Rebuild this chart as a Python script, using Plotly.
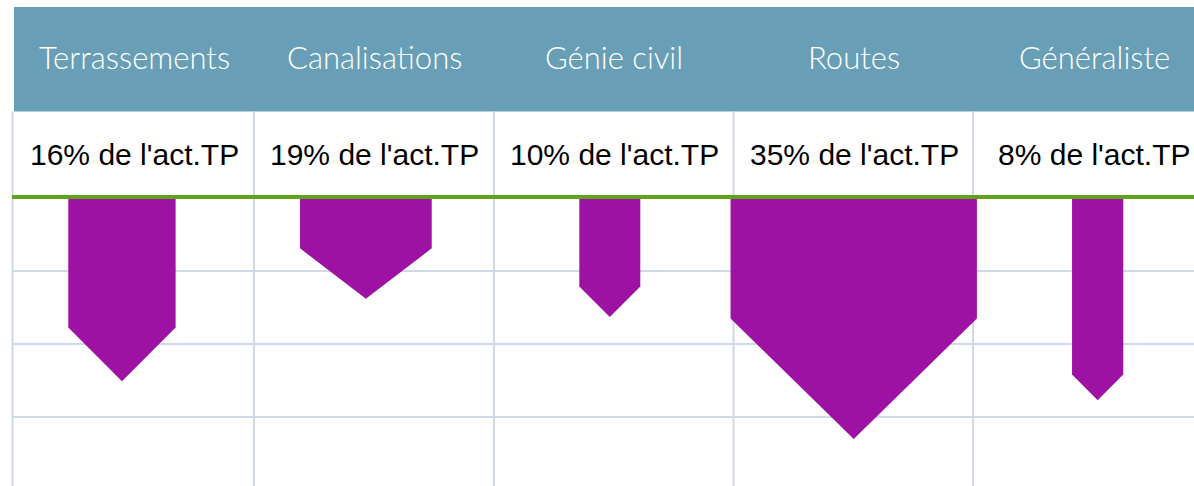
import plotly.graph_objects as go

# ---- data ----
categories = ["Terrassements", "Canalisations", "Génie civil", "Routes", "Généraliste"]
part_activite = [16, 19, 10, 35, 8]                 # % de l'activité TP
largeur_fleche = [0.44, 0.54, 0.25, 1.01, 0.21]     # arrow width (category units)
longueur_fleche = [2.51, 1.38, 1.63, 3.30, 2.77]    # arrow length (grid units)
labels_part = [f"{p}% de l'act.TP" for p in part_activite]

# ---- geometry / style ----
W, H = 1194, 486
X_RANGE = [-0.5, 4.395]
Y_RANGE = [3.945, -2.712]   # reversed, 0 at the green line
px_per_x = W / (X_RANGE[1] - X_RANGE[0])
px_per_y = H / (Y_RANGE[0] - Y_RANGE[1])

PURPLE = "#9E12A3"
HEADER = "#689FB6"
GRID = "#D0D9E6"
GREEN = "#62A11A"

def px(xp):
    return xp / W

def py(yp):
    return 1 - yp / H

fig = go.Figure()

for i, (w, L) in enumerate(zip(largeur_fleche, longueur_fleche)):
    half = w / 2
    half_px = half * px_per_x
    head_px = min(half_px, L * px_per_y / 2)
    head = head_px / px_per_y
    xs = [i - half, i + half, i + half, i, i - half, i - half]
    ys = [0, 0, L - head, L, L - head, 0]
    fig.add_trace(go.Scatter(
        x=xs, y=ys, mode="lines", fill="toself", fillcolor=PURPLE,
        line=dict(width=0, color=PURPLE), hoverinfo="skip", showlegend=False,
    ))

shapes = []
# header band
shapes.append(dict(type="rect", xref="paper", yref="paper",
                   x0=px(14), x1=px(1194), y0=py(111.5), y1=py(7),
                   fillcolor=HEADER, line=dict(width=0), layer="below"))
# vertical grid lines
for xv in [12.5, 254, 494, 733.5, 973]:
    shapes.append(dict(type="line", xref="paper", yref="paper",
                       x0=px(xv), x1=px(xv), y0=py(111.5), y1=py(486),
                       line=dict(color=GRID, width=2), layer="below"))
# horizontal grid lines (axis units)
for yv in [1, 2, 3]:
    shapes.append(dict(type="line", xref="paper", yref="y",
                       x0=px(12), x1=px(1194), y0=yv, y1=yv,
                       line=dict(color=GRID, width=2), layer="below"))
# green baseline
shapes.append(dict(type="line", xref="paper", yref="paper",
                   x0=px(12), x1=px(1194), y0=py(197), y1=py(197),
                   line=dict(color=GREEN, width=4), layer="above"))

annotations = []
for i, (c, lab) in enumerate(zip(categories, labels_part)):
    cx = px(14 + 120 + 240 * i)
    annotations.append(dict(xref="paper", yref="paper", x=cx, y=py(57),
                            text=c, showarrow=False, xanchor="center", yanchor="middle",
                            font=dict(family="Lato", size=31, color="white", weight=300)))
    annotations.append(dict(xref="paper", yref="paper", x=cx, y=py(154),
                            text=lab, showarrow=False, xanchor="center", yanchor="middle",
                            font=dict(family="Liberation Sans", size=30, color="black")))

fig.update_layout(
    width=W, height=H, margin=dict(l=0, r=0, t=0, b=0),
    paper_bgcolor="white", plot_bgcolor="rgba(0,0,0,0)",
    xaxis=dict(range=X_RANGE, visible=False, fixedrange=True),
    yaxis=dict(range=Y_RANGE, visible=False, fixedrange=True),
    shapes=shapes, annotations=annotations, showlegend=False,
)

fig.write_html("out.html", config={"displayModeBar": False},
               post_script="document.body.style.margin='0';document.body.style.overflow='hidden';")
